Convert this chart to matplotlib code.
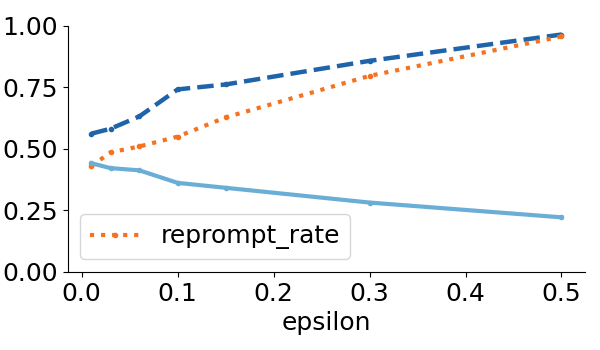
import matplotlib
matplotlib.use("Agg")
import matplotlib.pyplot as plt

epsilon = [0.01, 0.03, 0.06, 0.1, 0.15, 0.3, 0.5]
series_top = [0.562, 0.582, 0.632, 0.742, 0.762, 0.858, 0.965]
reprompt_rate = [0.43, 0.486, 0.51, 0.55, 0.628, 0.797, 0.957]
series_low = [0.442, 0.422, 0.413, 0.362, 0.342, 0.282, 0.222]

plt.rcParams['font.family'] = ['DejaVu Sans']
fig, ax = plt.subplots(figsize=(6, 3.5), dpi=100)
fig.subplots_adjust(left=0.113, right=0.975, top=0.926, bottom=0.223)

ax.plot(epsilon, series_top, linestyle='--', color='#1f63a8', linewidth=3.2,
        marker='o', markersize=3, label='_nolegend_')
ax.plot(epsilon, reprompt_rate, linestyle=':', color='#f47220', linewidth=3,
        marker='o', markersize=3, label='reprompt_rate')
ax.plot(epsilon, series_low, linestyle='-', color='#6aaed6', linewidth=3,
        marker='o', markersize=3, label='_nolegend_')

ax.set_ylim(0, 1)
ax.set_yticks([0, 0.25, 0.5, 0.75, 1.0])
ax.set_xticks([0.0, 0.1, 0.2, 0.3, 0.4, 0.5])
ax.tick_params(labelsize=18)
ax.set_xlabel('epsilon', fontsize=18)
ax.spines['top'].set_visible(False)
ax.spines['right'].set_visible(False)
ax.legend(loc='lower left', fontsize=18, bbox_to_anchor=(0.0, 0.0))

fig.savefig('out.png')
